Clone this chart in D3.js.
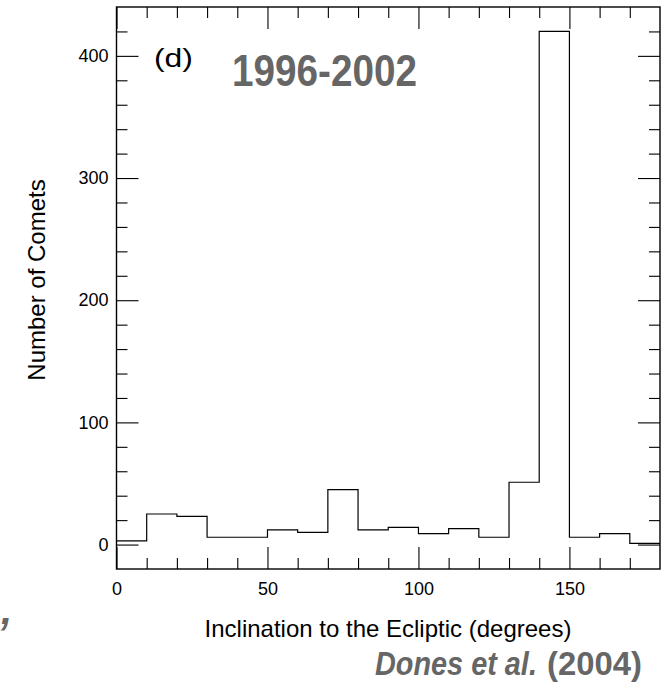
<!DOCTYPE html>
<html>
<head>
<meta charset="utf-8">
<script src="https://cdn.jsdelivr.net/npm/d3@7"></script>
<style>
  html, body { margin: 0; padding: 0; background: #fff; }
  svg { display: block; }
  text { font-family: "Liberation Sans", Arial, sans-serif; }
</style>
</head>
<body>
<svg id="chart" width="664" height="684"></svg>
<script>
// Histogram bins (left edges, degrees) and counts
const binStarts = [0, 10, 20, 30, 40, 50, 60, 70, 80, 90, 100, 110, 120, 130, 140, 150, 160, 170];
const counts    = [3, 25, 23, 6, 6, 12, 10, 45, 12, 14, 9, 13, 6, 51, 420, 6, 9, 1];
const binWidth = 10;
const xMajorTicks = [0, 50, 100, 150];
const xMinorTicks = [10, 20, 30, 40, 60, 70, 80, 90, 110, 120, 130, 140, 160, 170];
const yMajorTicks = [0, 100, 200, 300, 400];
const yMinorTicks = [20, 40, 60, 80, 120, 140, 160, 180, 220, 240, 260, 280, 320, 340, 360, 380, 420];
const xDomain = [0, 180];
const yDomain = [-20, 440];
const panelLabel = "(d)";
const periodLabel = "1996-2002";
const xTitle = "Inclination to the Ecliptic (degrees)";
const yTitle = "Number of Comets";
const citeAuthors = "Dones et al.";
const citeYear = "(2004)";

const svg = d3.select("#chart");
const L = 116.5, R = 660, T = 7, B = 569;
const x = d3.scaleLinear().domain(xDomain).range([L, R]);
const y = d3.scaleLinear().domain(yDomain).range([B, T]);

const MAJ = 22, MIN = 11;

function styleAxis(g) {
  g.select(".domain").remove();
  g.selectAll(".tick line").attr("stroke", "#000").attr("stroke-width", 1.1);
  g.selectAll(".tick text").attr("fill", "#000")
    .style("font-family", '"Liberation Sans", Arial, sans-serif').style("font-size", "18px");
}

// bottom
svg.append("g").attr("transform", `translate(0,${B})`)
  .call(d3.axisBottom(x).tickValues(xMajorTicks).tickSize(-MAJ).tickPadding(13).tickFormat(d3.format("d")))
  .call(styleAxis);
svg.append("g").attr("transform", `translate(0,${B})`)
  .call(d3.axisBottom(x).tickValues(xMinorTicks).tickSize(-MIN).tickFormat(""))
  .call(styleAxis);
// top
svg.append("g").attr("transform", `translate(0,${T})`)
  .call(d3.axisTop(x).tickValues(xMajorTicks).tickSize(-MAJ).tickFormat(""))
  .call(styleAxis);
svg.append("g").attr("transform", `translate(0,${T})`)
  .call(d3.axisTop(x).tickValues(xMinorTicks).tickSize(-MIN).tickFormat(""))
  .call(styleAxis);
// left
svg.append("g").attr("transform", `translate(${L},0)`)
  .call(d3.axisLeft(y).tickValues(yMajorTicks).tickSize(-MAJ).tickPadding(8).tickFormat(d3.format("d")))
  .call(styleAxis);
svg.append("g").attr("transform", `translate(${L},0)`)
  .call(d3.axisLeft(y).tickValues(yMinorTicks).tickSize(-MIN).tickFormat(""))
  .call(styleAxis);
// right
svg.append("g").attr("transform", `translate(${R},0)`)
  .call(d3.axisRight(y).tickValues(yMajorTicks).tickSize(-MAJ).tickFormat(""))
  .call(styleAxis);
svg.append("g").attr("transform", `translate(${R},0)`)
  .call(d3.axisRight(y).tickValues(yMinorTicks).tickSize(-MIN).tickFormat(""))
  .call(styleAxis);

// frame
svg.append("rect")
  .attr("x", x(xDomain[0])).attr("y", y(yDomain[1]))
  .attr("width", x(xDomain[1]) - x(xDomain[0]))
  .attr("height", y(yDomain[0]) - y(yDomain[1]))
  .attr("fill", "none").attr("stroke", "#000").attr("stroke-width", 1.4);

// histogram step outline
const stepData = binStarts.map((b, i) => ({ b, c: counts[i] }));
stepData.push({ b: binStarts[binStarts.length - 1] + binWidth, c: counts[counts.length - 1] });
svg.append("path")
  .datum(stepData)
  .attr("fill", "none").attr("stroke", "#000").attr("stroke-width", 1.2)
  .attr("d", d3.line().x(d => x(d.b)).y(d => y(d.c)).curve(d3.curveStepAfter));

// helper: place text and scale it horizontally to a target width
function fitText(sel, x0, y0, width) {
  const w = sel.node().getComputedTextLength();
  sel.attr("transform", `translate(${x0},${y0}) scale(${width / w},1)`);
  return sel;
}

// labels
fitText(svg.append("text").style("font-size", "26px").attr("fill", "#000").text(panelLabel), 154, 67, 39);

fitText(svg.append("text").style("font-size", "45px").style("font-weight", "bold")
  .attr("fill", "#666").text(periodLabel), 232, 86, 185);

svg.append("text").attr("transform", "translate(45,280) rotate(-90)")
  .attr("text-anchor", "middle").style("font-size", "24px").attr("fill", "#000").text(yTitle);

svg.append("text").attr("x", 388).attr("y", 637)
  .attr("text-anchor", "middle").style("font-size", "24px").attr("fill", "#000").text(xTitle);

fitText(svg.append("text").style("font-size", "34px").style("font-weight", "bold").style("font-style", "italic")
  .attr("fill", "#666").text(citeAuthors), 375, 675, 162);
fitText(svg.append("text").style("font-size", "34px").style("font-weight", "bold")
  .attr("fill", "#666").text(citeYear), 547, 675, 95);

// fragment of neighbouring panel's text at lower-left edge
svg.append("text").attr("x", 1).attr("y", 624)
  .style("font-size", "40px").style("font-weight", "bold").style("font-style", "italic")
  .attr("fill", "#666").text(",");
</script>
</body>
</html>
